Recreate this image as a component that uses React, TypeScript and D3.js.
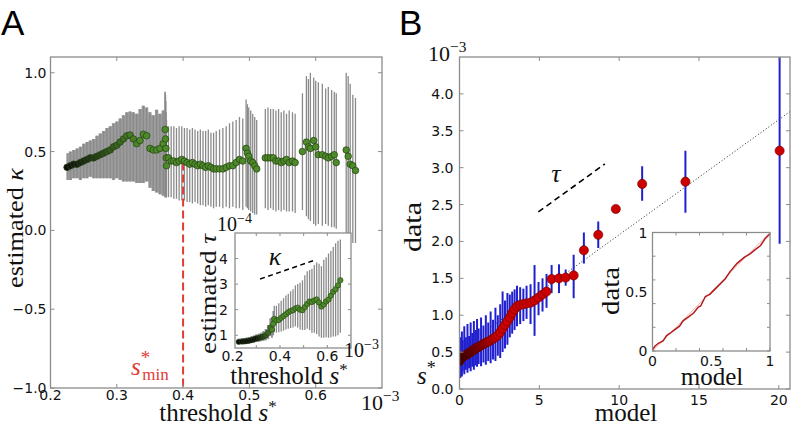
import React from "react";
import * as d3 from "d3";

// ---------- Panel A: estimated kappa vs threshold s* (x 1e-3) ----------
const aThreshold = [
  0.225, 0.23, 0.235, 0.24, 0.245, 0.25, 0.255, 0.26, 0.265, 0.27, 0.275, 0.28, 0.285, 0.29, 0.295,
  0.3, 0.305, 0.31, 0.315, 0.32, 0.325, 0.33, 0.335, 0.34, 0.345, 0.35, 0.355, 0.36, 0.365, 0.37,
  0.373, 0.3735, 0.374, 0.3745, 0.375,
  0.378, 0.382, 0.386, 0.39, 0.394, 0.398, 0.402, 0.406, 0.41, 0.414, 0.418, 0.422, 0.426, 0.43,
  0.434, 0.438, 0.442, 0.446, 0.45, 0.455, 0.46, 0.465, 0.47, 0.475, 0.48, 0.485, 0.49,
  0.495, 0.497, 0.499, 0.502, 0.505, 0.508, 0.511,
  0.524, 0.528, 0.532, 0.536, 0.54, 0.544, 0.548, 0.552, 0.556, 0.56, 0.565, 0.569,
  0.58, 0.586, 0.589, 0.592, 0.597, 0.6, 0.604, 0.61, 0.615, 0.619, 0.624, 0.628, 0.631,
  0.646, 0.649, 0.652, 0.656, 0.66,
];
const aKappa = [
  0.40, 0.41, 0.42, 0.42, 0.43, 0.44, 0.45, 0.46, 0.46, 0.47, 0.48, 0.49, 0.50, 0.51, 0.53,
  0.54, 0.56, 0.58, 0.60, 0.605, 0.58, 0.55, 0.57, 0.61, 0.60, 0.52, 0.51, 0.51, 0.52, 0.55,
  0.64, 0.58, 0.52, 0.46, 0.41,
  0.46, 0.44, 0.44, 0.43, 0.44, 0.45, 0.44, 0.43, 0.42, 0.43, 0.42, 0.41, 0.42, 0.41,
  0.40, 0.41, 0.40, 0.39, 0.39, 0.39, 0.39, 0.40, 0.41, 0.41, 0.43, 0.45, 0.44,
  0.52, 0.49, 0.47, 0.44, 0.43, 0.41, 0.39,
  0.46, 0.46, 0.46, 0.46, 0.44, 0.44, 0.43, 0.44, 0.45, 0.43, 0.44, 0.43,
  0.50, 0.56, 0.53, 0.52, 0.57, 0.53, 0.48, 0.48, 0.47, 0.46, 0.47, 0.48, 0.43,
  0.51, 0.47, 0.42, 0.41, 0.38,
];
const aKappaLow = [
  0.32, 0.32, 0.33, 0.33, 0.32, 0.33, 0.33, 0.34, 0.33, 0.33, 0.33, 0.33, 0.33, 0.33, 0.32,
  0.33, 0.32, 0.31, 0.31, 0.31, 0.31, 0.30, 0.30, 0.30, 0.31, 0.27, 0.25, 0.24, 0.23, 0.22,
  0.21, 0.21, 0.21, 0.21, 0.21,
  0.21, 0.21, 0.20, 0.20, 0.19, 0.19, 0.19, 0.18, 0.18, 0.17, 0.18, 0.17, 0.16, 0.16,
  0.15, 0.16, 0.15, 0.14, 0.15, 0.15, 0.14, 0.15, 0.14, 0.15, 0.14, 0.14, 0.13,
  0.15, 0.14, 0.13, 0.12, 0.11, 0.10, 0.10,
  0.14, 0.13, 0.14, 0.13, 0.12, 0.13, 0.12, 0.13, 0.12, 0.12, 0.12, 0.11,
  0.13, 0.09, 0.07, 0.06, 0.04, 0.03, 0.04, 0.03, 0.04, 0.03, 0.02, 0.02, 0.01,
  -0.05, -0.06, -0.07, -0.08, -0.08,
];
const aKappaHigh = [
  0.49, 0.50, 0.51, 0.52, 0.53, 0.55, 0.56, 0.57, 0.58, 0.60, 0.615, 0.63, 0.65, 0.66, 0.68,
  0.69, 0.71, 0.73, 0.75, 0.755, 0.75, 0.74, 0.77, 0.79, 0.78, 0.75, 0.73, 0.765, 0.74, 0.76,
  0.88, 0.86, 0.82, 0.75, 0.70,
  0.66, 0.66, 0.66, 0.65, 0.66, 0.66, 0.65, 0.65, 0.64, 0.65, 0.64, 0.63, 0.64, 0.63,
  0.63, 0.64, 0.62, 0.62, 0.63, 0.64, 0.65, 0.66, 0.68, 0.69, 0.70, 0.72, 0.71,
  0.83, 0.80, 0.78, 0.76, 0.74, 0.72, 0.70,
  0.77, 0.78, 0.77, 0.77, 0.76, 0.77, 0.75, 0.76, 0.74, 0.76, 0.75, 0.74,
  0.87, 0.98, 0.96, 1.00, 0.97, 0.95, 0.94, 0.93, 0.90, 0.91, 0.89, 0.88, 0.87,
  1.00, 0.98, 0.93, 0.86, 0.84,
];
const aXTicks = [0.2, 0.3, 0.4, 0.5, 0.6];
const aYTicks = [-1.0, -0.5, 0.0, 0.5, 1.0];
const aSMin = 0.4;

// ---------- Inset A: estimated tau (x 1e-4) vs threshold ----------
const iaThreshold = [
  0.226, 0.24, 0.25, 0.26, 0.27, 0.28, 0.29, 0.3, 0.31, 0.32, 0.33, 0.34, 0.35, 0.36, 0.366, 0.372,
  0.376, 0.385, 0.395, 0.405, 0.415, 0.425, 0.435, 0.445, 0.455, 0.465, 0.475, 0.485, 0.495,
  0.505, 0.515, 0.525, 0.535, 0.545, 0.555, 0.565, 0.575, 0.585, 0.595, 0.605, 0.615, 0.625,
  0.635, 0.645, 0.655,
];
const iaTau = [
  0.74, 0.75, 0.76, 0.77, 0.79, 0.81, 0.84, 0.87, 0.89, 0.92, 0.95, 1.0, 1.1, 1.3, 1.22, 1.45,
  1.64, 1.58, 1.6, 1.68, 1.75, 1.82, 1.9, 1.95, 1.98, 2.05, 2.08, 2.0, 1.98,
  2.1, 2.22, 2.32, 2.3, 2.36, 2.4, 2.28, 2.12, 2.2, 2.32, 2.4, 2.55, 2.7,
  2.8, 2.95, 3.15,
];
const iaTauLow = [
  0.66, 0.66, 0.67, 0.67, 0.68, 0.7, 0.71, 0.73, 0.74, 0.76, 0.78, 0.8, 0.86, 0.98, 0.9, 1.0,
  1.12, 1.1, 1.12, 1.15, 1.18, 1.22, 1.25, 1.28, 1.3, 1.35, 1.3, 1.22, 1.2,
  1.2, 1.25, 1.2, 1.1, 1.1, 1.05, 0.95, 0.9, 0.9, 0.92, 0.9, 0.92, 0.95,
  0.95, 1.0, 1.1,
];
const iaTauHigh = [
  0.86, 0.88, 0.89, 0.91, 0.93, 0.96, 0.99, 1.03, 1.06, 1.1, 1.16, 1.24, 1.4, 1.66, 1.7, 1.95,
  2.15, 2.15, 2.25, 2.35, 2.45, 2.55, 2.62, 2.72, 2.8, 2.95, 3.0, 3.05, 3.15,
  3.35, 3.5, 3.55, 3.6, 3.75, 3.85, 3.8, 3.7, 3.95, 4.05, 4.2, 4.3, 4.45,
  4.6, 4.7, 4.75,
];
const iaXTicks = [0.2, 0.4, 0.6];
const iaXMarks = [0.3, 0.4, 0.5, 0.6];
const iaYTicks = [1, 2, 3, 4];
const iaKappaSlopeX = [0.316, 0.548];
const iaKappaSlopeY = [3.2, 3.94];

// ---------- Panel B: data vs model (x 1e-3) ----------
const bModel = [
  0.0, 0.05, 0.1, 0.15, 0.2, 0.3, 0.4, 0.5, 0.6, 0.7, 0.8, 0.9, 1.0, 1.1, 1.2, 1.35, 1.5, 1.65,
  1.8, 1.95, 2.1, 2.25, 2.4, 2.55, 2.7, 2.85, 3.0, 3.15, 3.3, 3.45, 3.6, 3.8, 4.0, 4.2, 4.45,
  4.7, 4.95, 5.2, 5.45,
  5.77, 6.23, 6.65, 7.15, 7.79, 8.69, 9.79, 11.44, 14.15, 20.05,
];
const bData = [
  0.38, 0.4, 0.42, 0.43, 0.44, 0.45, 0.46, 0.47, 0.49, 0.5, 0.52, 0.53, 0.55, 0.56, 0.57, 0.59,
  0.61, 0.63, 0.64, 0.66, 0.68, 0.7, 0.73, 0.77, 0.82, 0.87, 0.92, 0.97, 1.03, 1.08, 1.12, 1.14,
  1.15, 1.16, 1.17, 1.2, 1.24, 1.28, 1.32,
  1.49, 1.5, 1.51, 1.54, 1.88, 2.09, 2.44, 2.78, 2.81, 3.23,
];
const bLow = [
  0.18, 0.15, 0.22, 0.17, 0.24, 0.2, 0.26, 0.22, 0.28, 0.24, 0.3, 0.26, 0.32, 0.3, 0.34, 0.31,
  0.36, 0.33, 0.38, 0.35, 0.4, 0.38, 0.45, 0.42, 0.5, 0.55, 0.6, 0.7, 0.75, 0.8, 0.85, 0.88,
  0.92, 0.95, 0.88, 0.72, 1.0, 1.05, 1.1,
  1.3, 1.3, 1.4, 1.23, 1.7, 1.91, 2.42, 2.55, 2.39, 1.97,
];
const bHigh = [
  0.6, 0.7, 0.62, 0.78, 0.66, 0.85, 0.7, 0.88, 0.72, 0.9, 0.76, 0.92, 0.8, 0.95, 0.82, 0.97,
  0.86, 1.0, 0.9, 1.05, 0.94, 1.1, 1.0, 1.15, 1.32, 1.2, 1.3, 1.28, 1.32, 1.35, 1.4, 1.38,
  1.36, 1.4, 1.42, 1.68, 1.45, 1.5, 1.56,
  1.68, 1.69, 1.62, 1.82, 2.12, 2.27, 2.46, 3.02, 3.23, 4.6,
];
const bXTicks = [0, 5, 10, 15, 20];
const bYTicks = [0.0, 0.5, 1.0, 1.5, 2.0, 2.5, 3.0, 3.5, 4.0];
const bDiagModel = [0, 20.7];
const bDiagData = [0.53, 3.76];
const bTauSlopeModel = [4.94, 9.1];
const bTauSlopeData = [2.4, 3.05];

// ---------- Inset B: cumulative data vs model ----------
const ibModel = [
  0, 0.02, 0.05, 0.09, 0.12, 0.15, 0.19, 0.23, 0.26, 0.31, 0.35, 0.39, 0.41, 0.45, 0.49, 0.53,
  0.58, 0.62, 0.66, 0.72, 0.78, 0.83, 0.88, 0.92, 0.96, 1.0,
];
const ibData = [
  0.01, 0.04, 0.065, 0.085, 0.13, 0.15, 0.18, 0.21, 0.255, 0.29, 0.32, 0.37, 0.38, 0.46, 0.48,
  0.52, 0.57, 0.61, 0.67, 0.74, 0.79, 0.82, 0.86, 0.89, 0.95, 0.99,
];
const ibTickMarks = [0, 0.2, 0.4, 0.6, 0.8, 1.0];
const ibTickLabels = [0, 0.5, 1];

// ---------- styles ----------
const SERIF = "'Liberation Serif', 'Times New Roman', serif";
const SANS = "'DejaVu Sans', sans-serif";
const FRAME = "#8c8c8c";
const GREEN = "#4d8b2a";

type Scale = d3.ScaleLinear<number, number>;

function Frame(props: {
  xs: Scale; ys: Scale; xMarks: number[]; yMarks: number[];
  xLabels: number[]; yLabels: number[]; fx: (v: number) => string; fy: (v: number) => string;
  tl: number; xBase: number; yGap: number; fs: number;
}) {
  const { xs, ys, xMarks, yMarks, xLabels, yLabels, fx, fy, tl, xBase, yGap, fs } = props;
  const [x0, x1] = xs.range();
  const [y0, y1] = ys.range();
  return (
    <g>
      <rect x={x0} y={y1} width={x1 - x0} height={y0 - y1} fill="none" stroke={FRAME} strokeWidth={1.3} />
      {xMarks.map((t, i) => (
        <g key={"x" + i} stroke={FRAME} strokeWidth={1}>
          <line x1={xs(t)} x2={xs(t)} y1={y0} y2={y0 - tl} />
          <line x1={xs(t)} x2={xs(t)} y1={y1} y2={y1 + tl} />
        </g>
      ))}
      {yMarks.map((t, i) => (
        <g key={"y" + i} stroke={FRAME} strokeWidth={1}>
          <line x1={x0} x2={x0 + tl} y1={ys(t)} y2={ys(t)} />
          <line x1={x1} x2={x1 - tl} y1={ys(t)} y2={ys(t)} />
        </g>
      ))}
      {xLabels.map((t, i) => (
        <text key={"xl" + i} x={xs(t)} y={xBase} textAnchor="middle" fontFamily={SANS} fontSize={fs} fill="#111">
          {fx(t)}
        </text>
      ))}
      {yLabels.map((t, i) => (
        <text key={"yl" + i} x={x0 - yGap} y={ys(t)} dy="0.36em" textAnchor="end" fontFamily={SANS} fontSize={fs} fill="#111">
          {fy(t)}
        </text>
      ))}
    </g>
  );
}

function Exp({ x, y, base, exp, fs }: { x: number; y: number; base: string; exp: string; fs: number }) {
  return (
    <text x={x} y={y} fontFamily={SERIF} fontSize={fs} fill="#111">
      {base}
      <tspan dy={-fs * 0.42} fontSize={fs * 0.7}>{exp}</tspan>
    </text>
  );
}

const minus = (s: string) => s.replace("-", "\u2212");

export default function App() {
  const ax = d3.scaleLinear().domain([0.2, 0.7]).range([50.5, 382]);
  const ay = d3.scaleLinear().domain([-1, 1.1]).range([388, 57]);
  const iax = d3.scaleLinear().domain([0.21, 0.7]).range([235, 351]);
  const iay = d3.scaleLinear().domain([0.5, 5]).range([348, 233]);
  const bx = d3.scaleLinear().domain([0, 20.7]).range([459.5, 790]);
  const by = d3.scaleLinear().domain([0, 4.5]).range([389, 57]);
  const ibx = d3.scaleLinear().domain([0, 1]).range([652.5, 770]);
  const iby = d3.scaleLinear().domain([0, 1]).range([351, 232.5]);

  const aIdx = aThreshold.map((_, i) => i);
  const denseA = aIdx.filter((i) => aThreshold[i] <= 0.373);
  const bandA = d3
    .area<number>()
    .x((i) => ax(aThreshold[i]))
    .y0((i) => ay(aKappaLow[i]))
    .y1((i) => ay(aKappaHigh[i]))
    .curve(d3.curveStep);

  const iaIdx = iaThreshold.map((_, i) => i);
  const denseIA = iaIdx.filter((i) => iaThreshold[i] <= 0.372);
  const bandIA = d3
    .area<number>()
    .x((i) => iax(iaThreshold[i]))
    .y0((i) => iay(iaTauLow[i]))
    .y1((i) => iay(iaTauHigh[i]))
    .curve(d3.curveStep);

  const greenOf = (v: number) => d3.interpolateRgb("#0d0d0d", GREEN)(Math.max(0, Math.min(1, (v - 0.225) / 0.11)));
  const greenOfInset = (v: number) => d3.interpolateRgb("#0d0d0d", GREEN)(Math.max(0, Math.min(1, (v - 0.3) / 0.07)));
  const redOf = (m: number) => d3.interpolateRgb("#1a0000", "#cc0000")(Math.max(0, Math.min(1, m / 2.4)));

  const bIdx = bModel.map((_, i) => i);
  const ibLine = d3
    .line<number>()
    .x((i) => ibx(ibModel[i]))
    .y((i) => iby(ibData[i]));

  const fmt1 = d3.format(".1f");
  const fmtInt = d3.format("d");
  const fmtIB = (v: number) => String(v);

  return (
    <svg width={793} height={426} style={{ position: "absolute", left: 0, top: 0, background: "#fff" }}>
      <defs>
        <clipPath id="clipA">
          <rect x={50.5} y={57} width={331.5} height={331} />
        </clipPath>
        <clipPath id="clipB">
          <rect x={459.5} y={57} width={330.5} height={332} />
        </clipPath>
      </defs>

      {/* ================= Panel A ================= */}
      <text x={1} y={35} fontFamily="'Liberation Sans', Arial, sans-serif" fontSize={35} fill="#000">A</text>
      <g clipPath="url(#clipA)">
        <path d={bandA(denseA) || ""} fill="#9c9c9c" />
        {aIdx.map((i) => (
          <line key={i} x1={ax(aThreshold[i])} x2={ax(aThreshold[i])} y1={ay(aKappaLow[i])} y2={ay(aKappaHigh[i])}
            stroke="#8a8a8a" strokeWidth={1.3} />
        ))}
        <line x1={ax(aSMin)} x2={ax(aSMin)} y1={ay(0.43)} y2={ay(-1)} stroke="#e23b36" strokeWidth={2} strokeDasharray="8,4" />
        {aIdx.map((i) => (
          <circle key={i} cx={ax(aThreshold[i])} cy={ay(aKappa[i])} r={3.3} fill={greenOf(aThreshold[i])}
            stroke="#243f10" strokeWidth={0.7} />
        ))}
      </g>
      <Frame xs={ax} ys={ay} xMarks={aXTicks} yMarks={aYTicks} xLabels={aXTicks} yLabels={aYTicks}
        fx={fmt1} fy={(v) => minus(fmt1(v))} tl={4} xBase={400} yGap={4} fs={14} />
      <text x={218} y={421} textAnchor="middle" fontFamily={SERIF} fontSize={25} fill="#111">
        threshold <tspan fontStyle="italic">s</tspan><tspan dy={-9} fontSize={17}>*</tspan>
      </text>
      <text transform="translate(23,228) rotate(-90)" textAnchor="middle" fontFamily={SERIF} fontSize={24} fill="#111"
        textLength={120} lengthAdjust="spacingAndGlyphs">
        estimated <tspan fontStyle="italic">κ</tspan>
      </text>
      <Exp x={361} y={410} base="10" exp={"\u22123"} fs={22} />
      <text x={131} y={375} fontFamily={SERIF} fontSize={25} fill="#e23b36">
        <tspan fontStyle="italic">s</tspan>
        <tspan dy={-11} fontSize={19}>*</tspan>
        <tspan dx={-8} dy={16} fontSize={17}>min</tspan>
      </text>

      {/* ---------- Inset A ---------- */}
      <rect x={235} y={233} width={116} height={115} fill="#fff" />
      <g>
        <path d={bandIA(denseIA) || ""} fill="#9c9c9c" />
        {iaIdx.map((i) => (
          <line key={i} x1={iax(iaThreshold[i])} x2={iax(iaThreshold[i])} y1={iay(iaTauLow[i])} y2={iay(iaTauHigh[i])}
            stroke="#8a8a8a" strokeWidth={1.3} />
        ))}
        {iaIdx.map((i) => (
          <circle key={i} cx={iax(iaThreshold[i])} cy={iay(iaTau[i])} r={2.7} fill={greenOfInset(iaThreshold[i])}
            stroke="#243f10" strokeWidth={0.6} />
        ))}
        <line x1={iax(iaKappaSlopeX[0])} y1={iay(iaKappaSlopeY[0])} x2={iax(iaKappaSlopeX[1])} y2={iay(iaKappaSlopeY[1])}
          stroke="#000" strokeWidth={1.5} strokeDasharray="5,3.5" />
      </g>
      <Frame xs={iax} ys={iay} xMarks={iaXMarks} yMarks={iaYTicks} xLabels={iaXTicks} yLabels={iaYTicks}
        fx={fmt1} fy={fmtInt} tl={3} xBase={361} yGap={7} fs={14} />
      <text x={275} y={265} textAnchor="middle" fontFamily={SERIF} fontStyle="italic" fontSize={26} fill="#111">κ</text>
      <text x={289} y={384} textAnchor="middle" fontFamily={SERIF} fontSize={25} fill="#111">
        threshold <tspan fontStyle="italic">s</tspan><tspan dy={-9} fontSize={17}>*</tspan>
      </text>
      <text transform="translate(216,294) rotate(-90)" textAnchor="middle" fontFamily={SERIF} fontSize={24} fill="#111"
        textLength={120} lengthAdjust="spacingAndGlyphs">
        estimated <tspan fontStyle="italic">τ</tspan>
      </text>
      <Exp x={217} y={231} base="10" exp={"\u22124"} fs={20} />
      <Exp x={344} y={357} base="10" exp={"\u22123"} fs={20} />

      {/* ================= Panel B ================= */}
      <text x={399} y={35} fontFamily="'Liberation Sans', Arial, sans-serif" fontSize={35} fill="#000">B</text>
      <g clipPath="url(#clipB)">
        <line x1={bx(bDiagModel[0])} y1={by(bDiagData[0])} x2={bx(bDiagModel[1])} y2={by(bDiagData[1])}
          stroke="#222" strokeWidth={1} strokeDasharray="1,2.2" />
        {bIdx.map((i) => (
          <line key={i} x1={bx(bModel[i])} x2={bx(bModel[i])} y1={by(bLow[i])} y2={by(bHigh[i])}
            stroke="#2020d0" strokeWidth={2} />
        ))}
        {bIdx.map((i) => (
          <circle key={i} cx={bx(bModel[i])} cy={by(bData[i])} r={4.6} fill={redOf(bModel[i])}
            stroke="#6a0000" strokeWidth={0.6} />
        ))}
        <line x1={bx(bTauSlopeModel[0])} y1={by(bTauSlopeData[0])} x2={bx(bTauSlopeModel[1])} y2={by(bTauSlopeData[1])}
          stroke="#000" strokeWidth={1.6} strokeDasharray="6,4" />
      </g>
      <Frame xs={bx} ys={by} xMarks={bXTicks} yMarks={bYTicks} xLabels={bXTicks} yLabels={bYTicks}
        fx={fmtInt} fy={fmt1} tl={4} xBase={405} yGap={6} fs={14} />
      <text x={556} y={182} textAnchor="middle" fontFamily={SERIF} fontStyle="italic" fontSize={26} fill="#111">τ</text>
      <text x={626} y={421} textAnchor="middle" fontFamily={SERIF} fontSize={25} fill="#111">model</text>
      <text transform="translate(421,227) rotate(-90)" textAnchor="middle" fontFamily={SERIF} fontSize={25} fill="#111"
        textLength={50} lengthAdjust="spacingAndGlyphs">data</text>
      <text x={417} y={384} fontFamily={SERIF} fontSize={25} fill="#111">
        <tspan fontStyle="italic">s</tspan><tspan dy={-10} fontSize={18}>*</tspan>
      </text>
      <Exp x={428} y={61} base="10" exp={"\u22123"} fs={22} />

      {/* ---------- Inset B ---------- */}
      <rect x={652.5} y={232.5} width={117.5} height={118.5} fill="#fff" />
      <line x1={ibx(0)} y1={iby(0)} x2={ibx(1)} y2={iby(1)} stroke="#f0b0b0" strokeWidth={1} />
      <path d={ibLine(ibModel.map((_, i) => i)) || ""} fill="none" stroke="#b31b1b" strokeWidth={1.5} />
      <Frame xs={ibx} ys={iby} xMarks={ibTickMarks} yMarks={ibTickMarks} xLabels={ibTickLabels} yLabels={ibTickLabels}
        fx={fmtIB} fy={fmtIB} tl={3} xBase={366} yGap={5} fs={14} />
      <text x={712} y={385} textAnchor="middle" fontFamily={SERIF} fontSize={25} fill="#111">model</text>
      <text transform="translate(619,291) rotate(-90)" textAnchor="middle" fontFamily={SERIF} fontSize={25} fill="#111"
        textLength={48} lengthAdjust="spacingAndGlyphs">data</text>
    </svg>
  );
}
